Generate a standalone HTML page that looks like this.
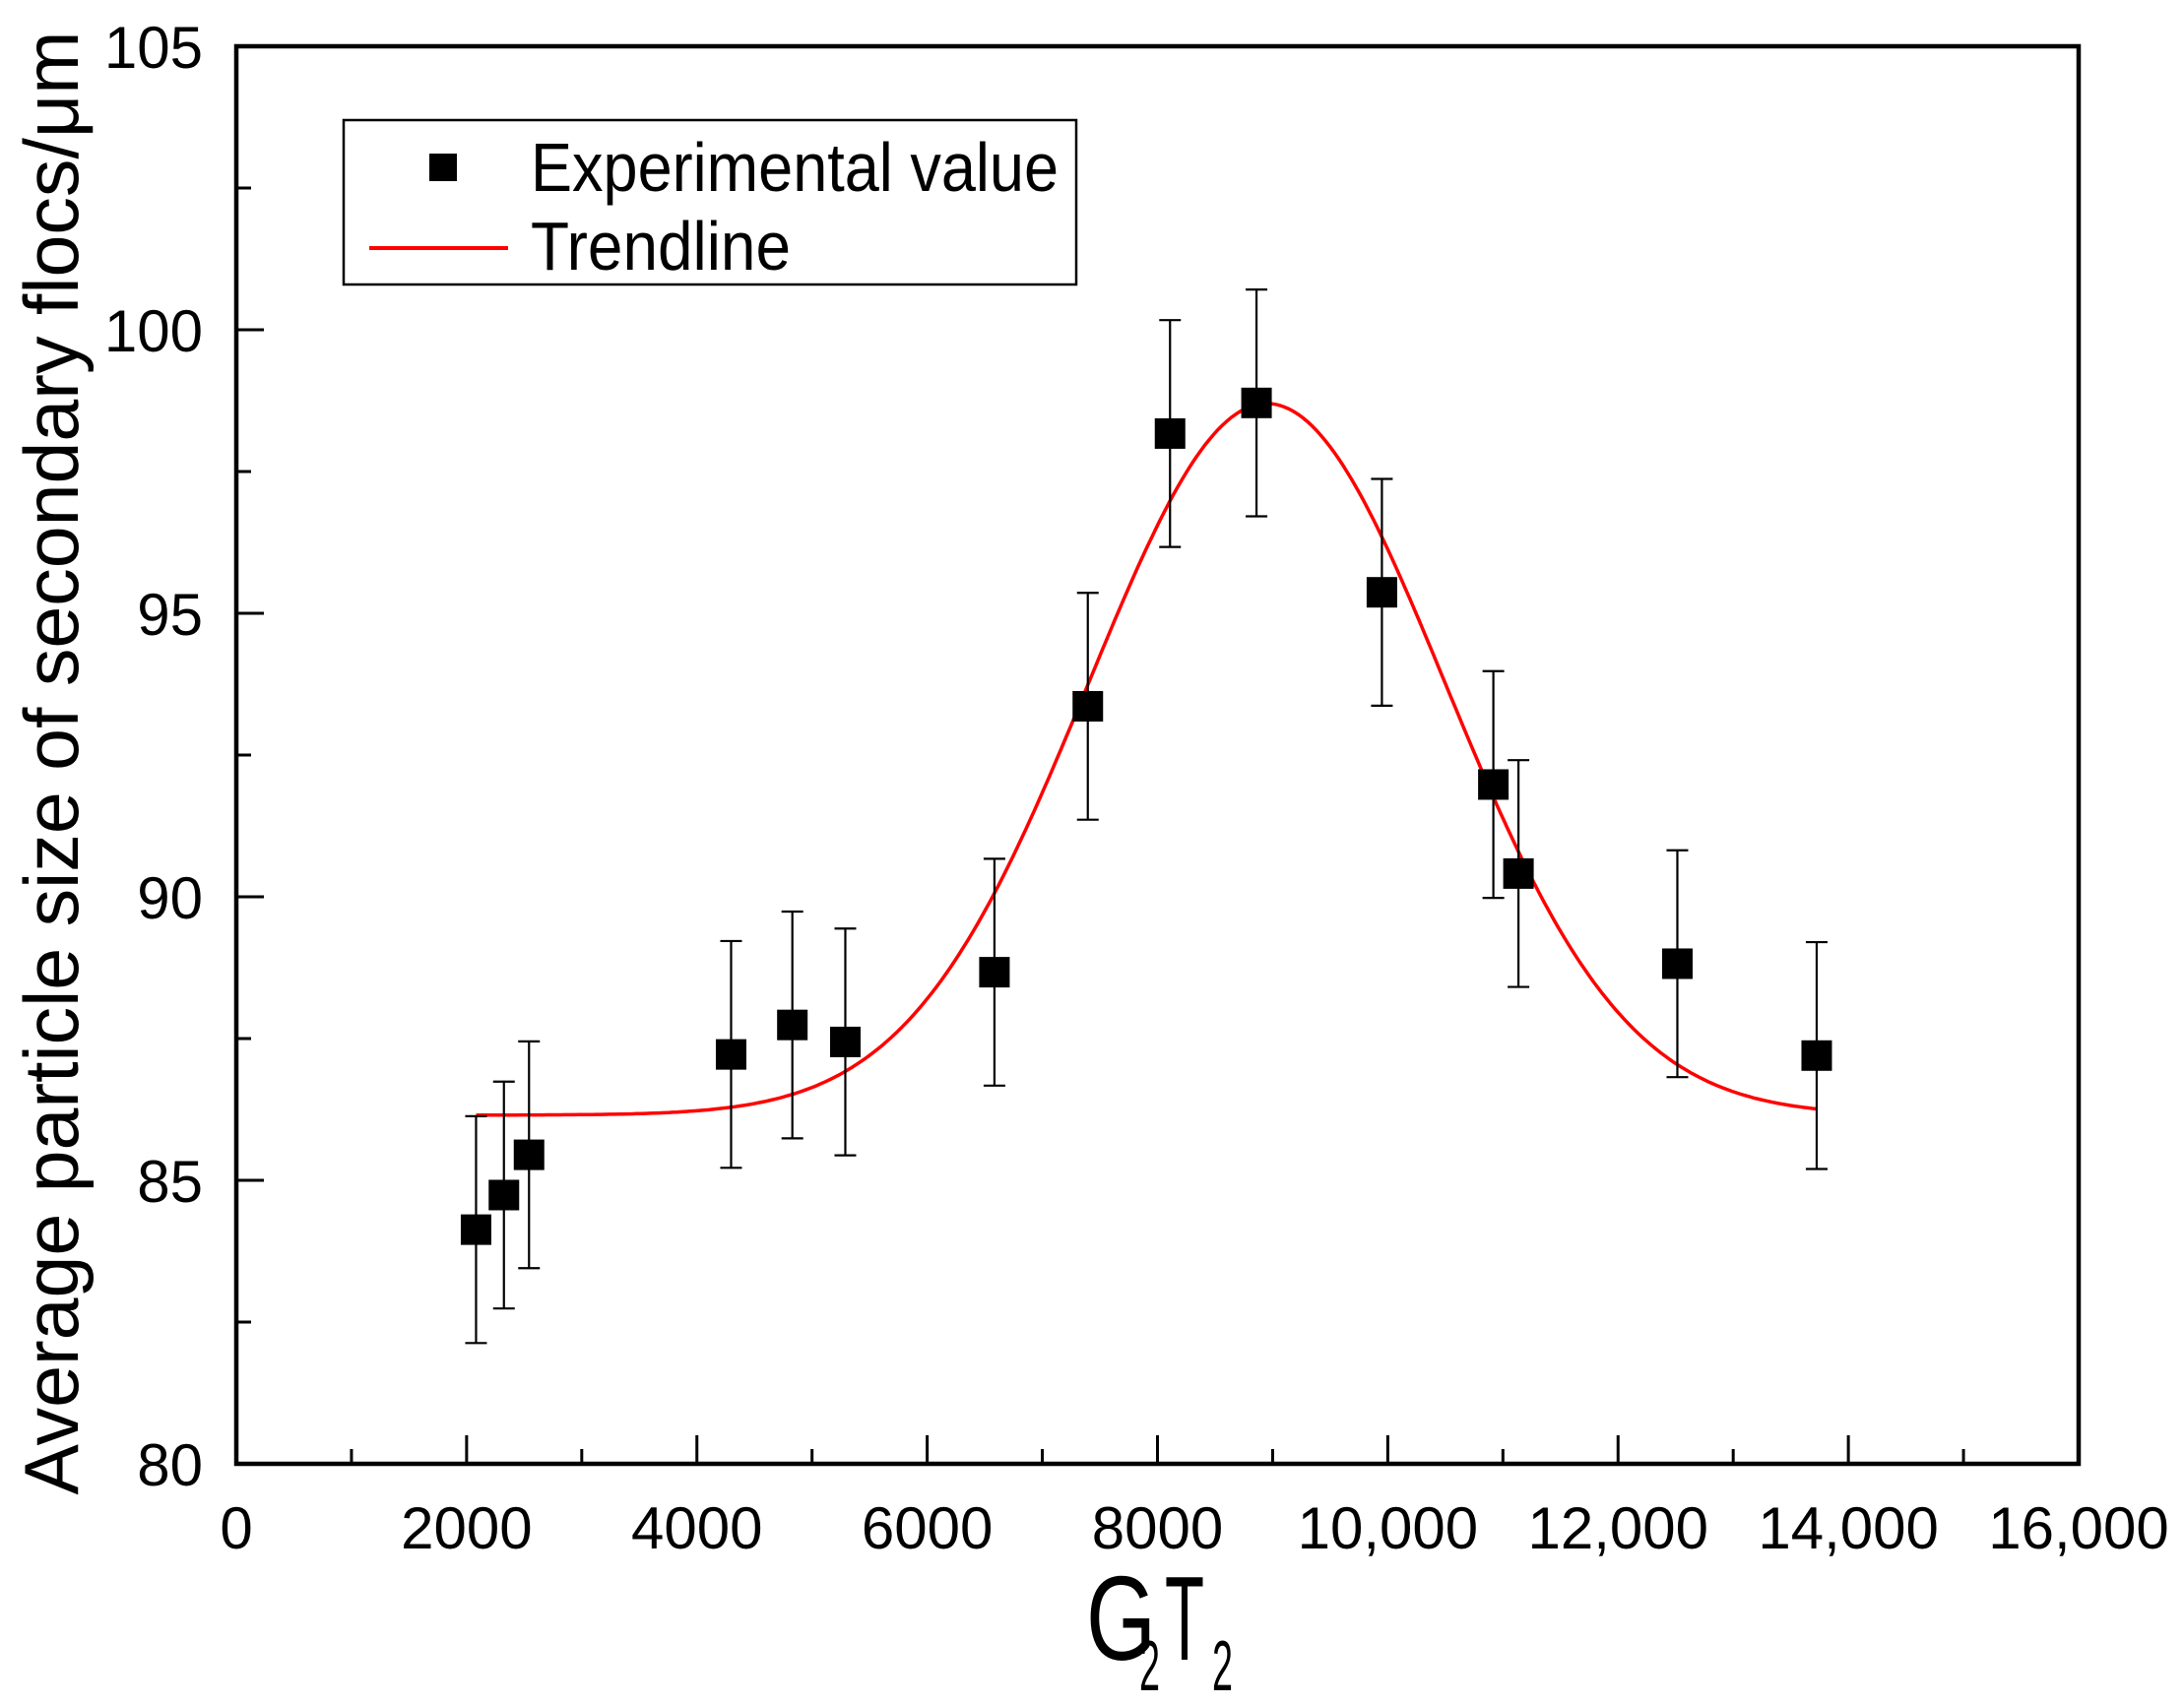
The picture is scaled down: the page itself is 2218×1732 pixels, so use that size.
<!DOCTYPE html>
<html><head><meta charset="utf-8"><style>html,body{margin:0;padding:0;background:#fff}svg{display:block}</style></head>
<body>
<svg id="chart" xmlns="http://www.w3.org/2000/svg" width="2218" height="1732" viewBox="0 0 2218 1732" font-family="'Liberation Sans', Arial, sans-serif">
<rect width="2218" height="1732" fill="#fff"/>
<g id="plot"></g>
<g>
  <rect x="349" y="122" width="744" height="167" fill="#fff" stroke="#000" stroke-width="2.5"/>
  <rect x="436" y="156" width="28" height="28" fill="#000"/>
  <text x="539" y="194" font-size="70" textLength="536" lengthAdjust="spacingAndGlyphs">Experimental value</text>
  <line x1="375" y1="252" x2="516" y2="252" stroke="#ff0000" stroke-width="4"/>
  <text x="539" y="274" font-size="70" textLength="264" lengthAdjust="spacingAndGlyphs">Trendline</text>
</g>
<text transform="translate(79,775) rotate(-90)" text-anchor="middle" font-size="78" textLength="1487" lengthAdjust="spacingAndGlyphs">Average particle size of secondary flocs/μm</text>
<g>
  <text x="1103" y="1686" font-size="122" textLength="71" lengthAdjust="spacingAndGlyphs">G</text>
  <text x="1157" y="1717" font-size="72" textLength="21" lengthAdjust="spacingAndGlyphs">2</text>
  <text x="1183" y="1686" font-size="122" textLength="40" lengthAdjust="spacingAndGlyphs">T</text>
  <text x="1231" y="1717" font-size="72" textLength="21" lengthAdjust="spacingAndGlyphs">2</text>
</g>
</svg>
<script>
const xValues = [2082, 2324, 2542, 4297, 4829, 5289, 6584, 7395, 8109, 8860, 9949, 10917, 11135, 12515, 13725];
const yValues = [84.13, 84.74, 85.45, 87.22, 87.74, 87.44, 88.67, 93.36, 98.17, 98.71, 95.37, 91.98, 90.41, 88.82, 87.20];
const yErrors = [2, 2, 2, 2, 2, 2, 2, 2, 2, 2, 2, 2, 2, 2, 2];
const trendParams = [86.15, 12.55, 8950, 1550]; // baseline, amplitude, center, width
const trendRange = [2082, 13725];
const xTicks = [0, 2000, 4000, 6000, 8000, 10000, 12000, 14000, 16000];
const xTickLabels = ['0', '2000', '4000', '6000', '8000', '10,000', '12,000', '14,000', '16,000'];
const yTicks = [80, 85, 90, 95, 100, 105];
const yTickLabels = ['80', '85', '90', '95', '100', '105'];

const L = 240, R = 2111, T = 47, B = 1487;
const X0 = 0, X1 = 16000, Y0 = 80, Y1 = 105;
const sx = v => L + (v - X0) / (X1 - X0) * (R - L);
const sy = v => B - (v - Y0) / (Y1 - Y0) * (B - T);
const NS = 'http://www.w3.org/2000/svg';
const plot = document.getElementById('plot');
function mk(tag, attrs, parent) {
  const e = document.createElementNS(NS, tag);
  for (const k in attrs) e.setAttribute(k, attrs[k]);
  (parent || plot).appendChild(e);
  return e;
}

let d = '';
for (let i = 0; i <= 300; i++) {
  const x = trendRange[0] + (trendRange[1] - trendRange[0]) * i / 300;
  const y = trendParams[0] + trendParams[1] * Math.exp(-Math.pow(x - trendParams[2], 2) / (2 * trendParams[3] * trendParams[3]));
  d += (i ? 'L' : 'M') + sx(x).toFixed(1) + ' ' + sy(y).toFixed(1);
}
const tl = mk('path', {d: d, fill: 'none', stroke: '#ff0000', 'stroke-width': 3.5});



xValues.forEach((xv, i) => {
  const cx = sx(xv), cy = sy(yValues[i]);
  const yt = sy(yValues[i] + yErrors[i]), yb = sy(yValues[i] - yErrors[i]);
  const g = mk('g', {stroke: '#000', 'stroke-width': 2.2});
  
  
  mk('line', {x1: cx, y1: yt, x2: cx, y2: yb}, g);
  mk('line', {x1: cx - 11, y1: yt, x2: cx + 11, y2: yt}, g);
  mk('line', {x1: cx - 11, y1: yb, x2: cx + 11, y2: yb}, g);
  const p = mk('rect', {x: cx - 15.5, y: cy - 15.5, width: 31, height: 31, fill: '#000'});
  
  
});

const frame = mk('rect', {x: L, y: T, width: R - L, height: B - T, fill: 'none', stroke: '#000', 'stroke-width': 4.5});



xTicks.forEach((v, i) => {
  const x = sx(v);
  const t = mk('line', {x1: x, y1: B, x2: x, y2: B - 29, stroke: '#000', 'stroke-width': 3});
  
  
  if (i < xTicks.length - 1) {
    const m = sx((v + xTicks[i + 1]) / 2);
    const mt = mk('line', {x1: m, y1: B, x2: m, y2: B - 15, stroke: '#000', 'stroke-width': 3});
    
    
  }
  const lb = mk('text', {x: x, y: 1573, 'text-anchor': 'middle', 'font-size': 60});
  lb.textContent = xTickLabels[i];
  
  
});

yTicks.forEach((v, i) => {
  const y = sy(v);
  const t = mk('line', {x1: L, y1: y, x2: L + 28, y2: y, stroke: '#000', 'stroke-width': 3});
  
  
  if (i < yTicks.length - 1) {
    const m = sy((v + yTicks[i + 1]) / 2);
    const mt = mk('line', {x1: L, y1: m, x2: L + 15, y2: m, stroke: '#000', 'stroke-width': 3});
    
    
  }
  const lb = mk('text', {x: 206, y: y + 22, 'text-anchor': 'end', 'font-size': 60});
  lb.textContent = yTickLabels[i];
  
  
});
</script>
</body></html>
